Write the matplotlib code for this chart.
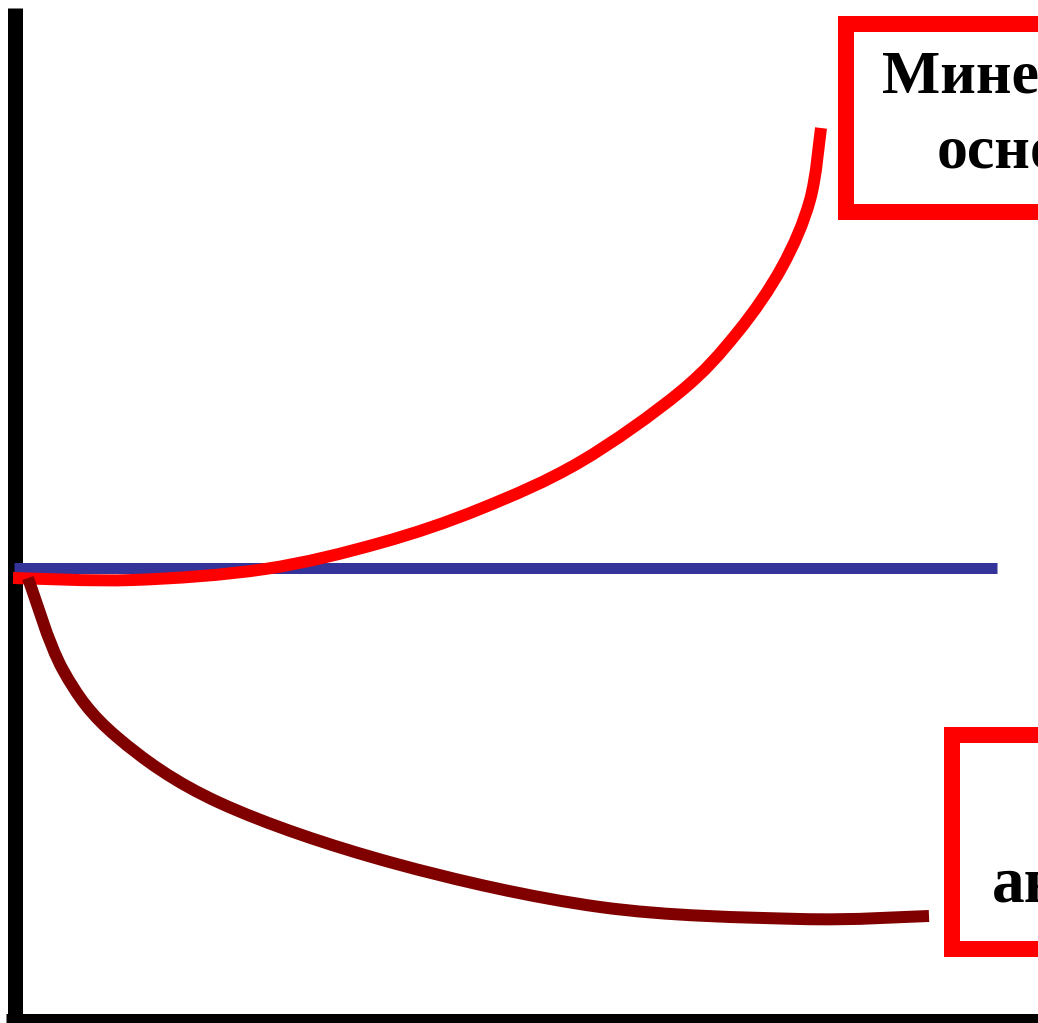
import matplotlib
matplotlib.use("Agg")
import matplotlib.pyplot as plt
from matplotlib.patches import Rectangle, PathPatch
from matplotlib.path import Path

# ---- data (x: distance from vertical axis, y: relative to baseline level) ----
baseline_x = [0, 983]
baseline_y = [0, 0]

red_x = [-1, 119, 251, 366, 466, 566, 666, 723, 768, 796, 807]
red_y = [-10, -12, -1, 25, 59, 106, 176, 235, 301, 368, 440]

dark_x = [14, 49, 103, 206, 379, 586, 786, 915]
dark_y = [-10, -102, -169, -235, -295, -339, -351, -348]

top_label = ["Минеральные", "основания"]
bottom_label = ["анионы"]

W, H = 1038, 1023
fig = plt.figure(figsize=(W / 100, H / 100), dpi=100)
fig.patch.set_facecolor("white")

ax = fig.add_axes([0, 0, 1, 1])
ax.set_xlim(-14, W - 14)
ax.set_ylim(-(H - 568), 568)
ax.axis("off")

px = 0.72  # points per pixel at 100 dpi


def smooth_path(xs, ys):
    """Catmull-Rom spline through the given points, as cubic Bezier segments."""
    pts = list(zip(xs, ys))
    verts = [pts[0]]
    codes = [Path.MOVETO]
    n = len(pts)
    for i in range(n - 1):
        p0 = pts[i - 1] if i > 0 else pts[i]
        p1 = pts[i]
        p2 = pts[i + 1]
        p3 = pts[i + 2] if i + 2 < n else pts[i + 1]
        c1 = (p1[0] + (p2[0] - p0[0]) / 6.0, p1[1] + (p2[1] - p0[1]) / 6.0)
        c2 = (p2[0] - (p3[0] - p1[0]) / 6.0, p2[1] - (p3[1] - p1[1]) / 6.0)
        verts += [c1, c2, p2]
        codes += [Path.CURVE4] * 3
    return Path(verts, codes)


# axes lines (thick black L)
ax.plot([0.5, 0.5], [560, -460], color="black", lw=15 * px, solid_capstyle="butt", zorder=1)
ax.plot([-8, W], [-452.5, -452.5], color="black", lw=15 * px, solid_capstyle="butt", zorder=1)

ax.plot(baseline_x, baseline_y, color="#333399", lw=11 * px, solid_capstyle="butt", zorder=2)
ax.add_patch(PathPatch(smooth_path(red_x, red_y), facecolor="none", edgecolor="#FF0000",
                       lw=12 * px, capstyle="butt", joinstyle="round", zorder=3))
ax.add_patch(PathPatch(smooth_path(dark_x, dark_y), facecolor="none", edgecolor="#800000",
                       lw=12 * px, capstyle="butt", joinstyle="round", zorder=4))

# overlay for label boxes (pixel layout)
ov = fig.add_axes([0, 0, 1, 1], facecolor="none")
ov.set_xlim(0, W)
ov.set_ylim(H, 0)
ov.axis("off")

ov.add_patch(Rectangle((845.5, 23.5), 600, 188.5, facecolor="white",
                       edgecolor="#FF0000", lw=16 * px, zorder=5))
ov.add_patch(Rectangle((951.5, 735), 600, 214, facecolor="white",
                       edgecolor="#FF0000", lw=16 * px, zorder=5))

font = dict(family=["Liberation Serif", "DejaVu Serif"], weight="bold", color="black")
ov.text(882, 93, top_label[0], fontsize=44.5, ha="left", va="baseline", zorder=6, **font)
ov.text(937, 167, top_label[1], fontsize=44.5, ha="left", va="baseline", zorder=6, **font)
ov.text(992, 901, bottom_label[0], fontsize=47, ha="left", va="baseline", zorder=6, **font)

fig.savefig("out.png", dpi=100, facecolor="white")
